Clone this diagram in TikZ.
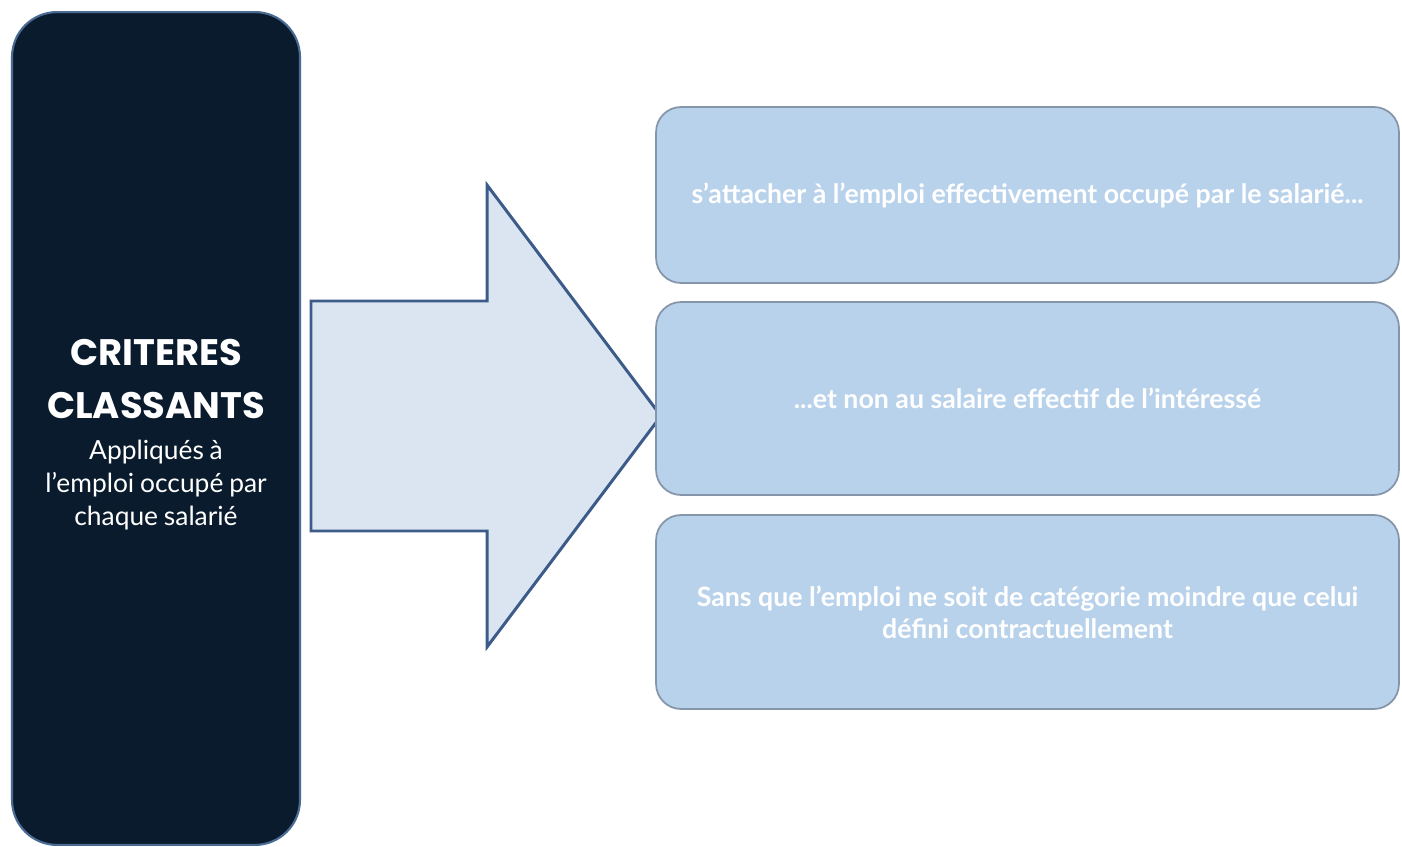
\documentclass[tikz,border=0pt]{standalone}
\usepackage{fontspec}
\setmainfont{Lato}
\newfontfamily\titlefont{Poppins}
\definecolor{navy}{HTML}{0A1B2D}
\definecolor{navyline}{HTML}{4A6B94}
\definecolor{arrowfill}{HTML}{DBE5F2}
\definecolor{arrowline}{HTML}{3C5B89}
\definecolor{boxfill}{HTML}{B9D2EB}
\definecolor{boxline}{HTML}{8696AA}
\tikzset{
  critbox/.style={draw=navyline,fill=navy,line width=1.2pt,rounded corners=.9cm,
    minimum width=5.76cm,minimum height=16.66cm},
  crittext/.style={text=white,align=center,text width=5.6cm,inner sep=0pt},
  rulebox/.style={draw=boxline,fill=boxfill,line width=1pt,rounded corners=.5cm,
    minimum width=14.86cm,text=white,align=center,font=\bfseries\fontsize{15.2}{18.2}\selectfont},
}
\begin{document}
\begin{tikzpicture}[x=.02cm,y=-.02cm,line width=.6pt]
  \useasboundingbox (0,0) rectangle (1402,847);
  \fill[white] (0,0) rectangle (1402,847);
  % left box
  \node[critbox] (crit) at (156,428.5) {};
  \node[crittext] (critlbl) at (156,434.5) {%
    {\titlefont\bfseries\fontsize{21}{30}\selectfont CRITERES\\CLASSANTS\par}
    \vspace{5pt}
    {\fontsize{15}{18.7}\selectfont Appliqués à\\l'emploi occupé par\\chaque salarié\par}};
  % arrow
  \coordinate (a1) at (311,301);
  \coordinate (a2) at (487,301);
  \coordinate (a3) at (487,185);
  \coordinate (tip) at (661,416);
  \coordinate (a4) at (487,647);
  \coordinate (a5) at (487,531);
  \coordinate (a6) at (311,531);
  \draw[fill=arrowfill,draw=arrowline,line width=1.7pt,line join=miter]
    (a1)--(a2)--(a3)--(tip)--(a4)--(a5)--(a6)--cycle;
  % right boxes
  \node[rulebox,minimum height=3.52cm] (r1) at (1027.5,195)
    {s'attacher à l'emploi effectivement occupé par le salarié...};
  \node[rulebox,minimum height=3.86cm] (r2) at (1027.5,398.5)
    {...et non au salaire effectif de l'intéressé};
  \node[rulebox,minimum height=3.88cm] (r3) at (1027.5,612)
    {Sans que l'emploi ne soit de catégorie moindre que celui\\défini contractuellement};
\end{tikzpicture}
\end{document}
